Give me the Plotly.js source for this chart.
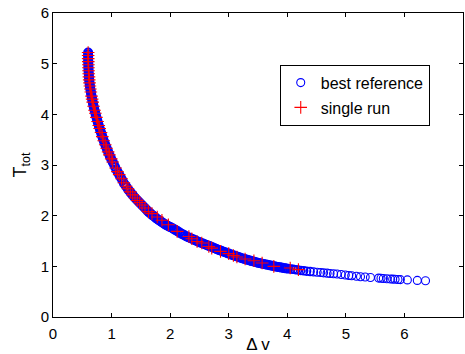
<!DOCTYPE html>
<html>
<head>
<meta charset="utf-8">
<script src="https://cdn.plot.ly/plotly-3.0.1.min.js"></script>
<style>html,body{margin:0;padding:0;background:#fff;}#chart{width:465px;height:354px;}</style>
</head>
<body>
<div id="chart"></div>
<script>
// best reference (blue circles)
const refDv = [
  0.600,0.600,0.601,0.601,0.602,0.603,0.604,0.605,0.606,0.607,0.609,0.611,0.614,0.617,0.620,0.624,0.628,0.633,0.638,0.644,
  0.649,0.655,0.661,0.668,0.675,0.682,0.689,0.697,0.705,0.714,0.723,0.732,0.741,0.751,0.761,0.771,0.781,0.792,0.803,0.814,
  0.825,0.836,0.848,0.860,0.873,0.886,0.899,0.913,0.927,0.941,0.955,0.970,0.986,1.002,1.019,1.036,
  1.060,1.085,1.110,1.135,1.160,1.185,1.210,1.235,1.260,1.285,1.310,1.335,1.360,1.385,1.410,1.435,1.460,1.485,1.510,1.535,
  1.560,1.585,1.610,1.635,1.660,1.685,1.710,1.735,1.760,1.785,1.810,1.835,1.860,1.885,1.910,1.935,1.960,1.985,
  2.01,2.04,2.07,2.10,2.13,2.16,2.19,2.22,2.25,2.28,2.31,2.34,2.37,2.40,2.43,2.46,2.49,2.52,2.55,2.58,
  2.61,2.64,2.67,2.70,2.73,2.76,2.79,2.82,2.85,2.88,2.91,2.94,2.97,3.00,3.03,3.06,3.09,3.12,3.15,3.18,
  3.21,3.24,3.27,3.30,3.33,3.36,3.39,3.42,3.45,3.48,3.51,3.54,3.57,3.60,3.63,3.66,3.69,3.72,3.75,3.78,
  3.81,3.84,3.87,3.90,3.93,3.96,3.99,
  4.02,4.06,4.10,4.14,4.18,4.23,4.28,4.33,4.39,4.45,4.51,4.57,4.62,4.68,4.73,4.79,
  4.85,4.92,4.99,5.05,5.10,5.18,5.25,5.33,5.42,5.56,5.60,5.64,5.70,5.76,5.80,5.84,5.89,5.93,6.05,6.22,6.36];
const refT = [
  5.22,5.18,5.14,5.10,5.06,5.02,4.98,4.94,4.90,4.86,4.82,4.78,4.74,4.70,4.66,4.62,4.58,4.54,4.50,4.46,
  4.42,4.38,4.34,4.30,4.26,4.22,4.18,4.14,4.10,4.06,4.02,3.98,3.94,3.90,3.86,3.82,3.78,3.74,3.70,3.66,
  3.62,3.58,3.54,3.50,3.46,3.42,3.38,3.34,3.30,3.26,3.22,3.18,3.14,3.10,3.06,3.02,
  2.96,2.90,2.85,2.80,2.75,2.70,2.64,2.60,2.56,2.51,2.48,2.44,2.41,2.37,2.34,2.31,2.28,2.25,2.22,2.19,
  2.16,2.13,2.10,2.07,2.05,2.02,2.00,1.98,1.95,1.93,1.91,1.89,1.87,1.85,1.83,1.81,1.80,1.78,
  1.77,1.75,1.73,1.71,1.69,1.67,1.645,1.63,1.61,1.59,1.575,1.56,1.545,1.53,1.513,1.497,1.482,1.467,1.454,1.441,
  1.427,1.413,1.399,1.385,1.371,1.357,1.343,1.329,1.315,1.302,1.289,1.277,1.264,1.251,1.238,1.226,1.214,1.202,1.191,1.178,
  1.166,1.155,1.145,1.135,1.125,1.114,1.103,1.094,1.085,1.076,1.067,1.060,1.052,1.045,1.038,1.030,1.022,1.015,1.008,1.000,
  0.993,0.987,0.981,0.975,0.969,0.963,0.957,
  0.952,0.946,0.940,0.934,0.928,0.920,0.912,0.905,0.897,0.890,0.883,0.877,0.871,0.865,0.860,0.855,
  0.850,0.840,0.830,0.820,0.815,0.805,0.795,0.788,0.780,0.768,0.765,0.761,0.756,0.750,0.747,0.744,0.741,0.738,0.732,0.722,0.716];
// single run (red plus)
const runDv = [
  0.600,0.600,0.601,0.602,0.604,0.605,0.607,0.610,0.614,0.618,0.624,0.630,0.638,0.646,0.658,0.668,0.678,0.693,0.709,0.723,
  0.741,0.761,0.781,0.797,0.820,0.842,0.866,0.892,0.916,0.941,0.962,0.994,1.019,
  1.07,1.10,1.13,1.17,1.21,1.25,1.28,1.32,1.36,1.40,1.44,1.48,1.52,1.57,1.63,
  1.69,1.78,1.86,1.97,2.12,2.32,2.37,2.46,2.54,2.66,2.71,2.86,3.00,3.08,3.14,3.28,3.43,3.57,3.77,4.05,4.19];
const runT = [
  5.22,5.16,5.10,5.04,4.98,4.92,4.86,4.80,4.74,4.68,4.62,4.56,4.50,4.44,4.36,4.30,4.24,4.16,4.08,4.02,
  3.94,3.86,3.78,3.72,3.64,3.56,3.48,3.40,3.33,3.26,3.20,3.12,3.06,
  2.94,2.87,2.81,2.73,2.65,2.58,2.53,2.47,2.41,2.35,2.30,2.26,2.21,2.15,2.08,
  2.04,1.975,1.91,1.82,1.69,1.59,1.545,1.49,1.46,1.39,1.36,1.295,1.25,1.215,1.185,1.145,1.11,1.065,1.00,0.967,0.935];
const xTicks = [0,1,2,3,4,5,6,7];
const yTicks = [0,1,2,3,4,5,6];
const seriesNames = ['best reference', 'single run'];

const FONT = '"Liberation Sans", Arial, Helvetica, sans-serif';

// overlapping circles in the dense part of the front merge into a solid band
const refLineW = refDv.map(v => (v < 4.0 ? 2.0 : (v < 4.4 ? 1.5 : 1.1)));

const traces = [
  {x: refDv, y: refT, type: 'scatter', mode: 'markers', name: seriesNames[0], legendgroup: 'a', showlegend: false,
   marker: {symbol: 'circle-open', size: 8, color: '#0000ff', line: {width: refLineW, color: '#0000ff'}}},
  // legend entry for the blue series (thin circle as in the reference legend)
  {x: [null], y: [null], type: 'scatter', mode: 'markers', name: seriesNames[0], legendgroup: 'a',
   marker: {symbol: 'circle-open', size: 8, color: '#0000ff', line: {width: 1.1, color: '#0000ff'}}},
  {x: runDv, y: runT, type: 'scatter', mode: 'markers', name: seriesNames[1], legendgroup: 'b',
   marker: {symbol: 'cross-thin-open', size: 9, color: '#ff0000', line: {width: 1.1, color: '#ff0000'}}}
];

const layout = {
  width: 465, height: 354,
  margin: {l: 53, r: 2, t: 13, b: 37, pad: 0},
  paper_bgcolor: '#ffffff', plot_bgcolor: '#ffffff',
  font: {family: FONT, size: 15, color: '#000'},
  showlegend: true,
  legend: {x: 0.553, y: 0.83, xanchor: 'left', yanchor: 'top', bordercolor: '#000', borderwidth: 1,
           bgcolor: '#fff', font: {family: FONT, size: 16, color: '#000'}, tracegroupgap: 1},
  xaxis: {range: [0, 7], tickvals: xTicks, ticktext: xTicks.map(String), ticks: 'inside', ticklen: 4,
          tickcolor: '#000', showline: true, linecolor: '#000', linewidth: 1, mirror: 'ticks',
          showgrid: false, zeroline: false, tickfont: {size: 15}, fixedrange: true, ticklabelstandoff: 3,
          title: {text: 'Δ v', font: {size: 17}, standoff: 2}, automargin: false},
  yaxis: {range: [0, 6], tickvals: yTicks, ticktext: yTicks.map(String), ticks: 'inside', ticklen: 4,
          tickcolor: '#000', showline: true, linecolor: '#000', linewidth: 1, mirror: 'ticks',
          showgrid: false, zeroline: false, tickfont: {size: 15}, fixedrange: true,
          title: {text: 'T<sub>tot</sub>', font: {size: 18}, standoff: 9}, automargin: false}
};

Plotly.newPlot('chart', traces, layout, {displayModeBar: false, staticPlot: true});
</script>
</body>
</html>
